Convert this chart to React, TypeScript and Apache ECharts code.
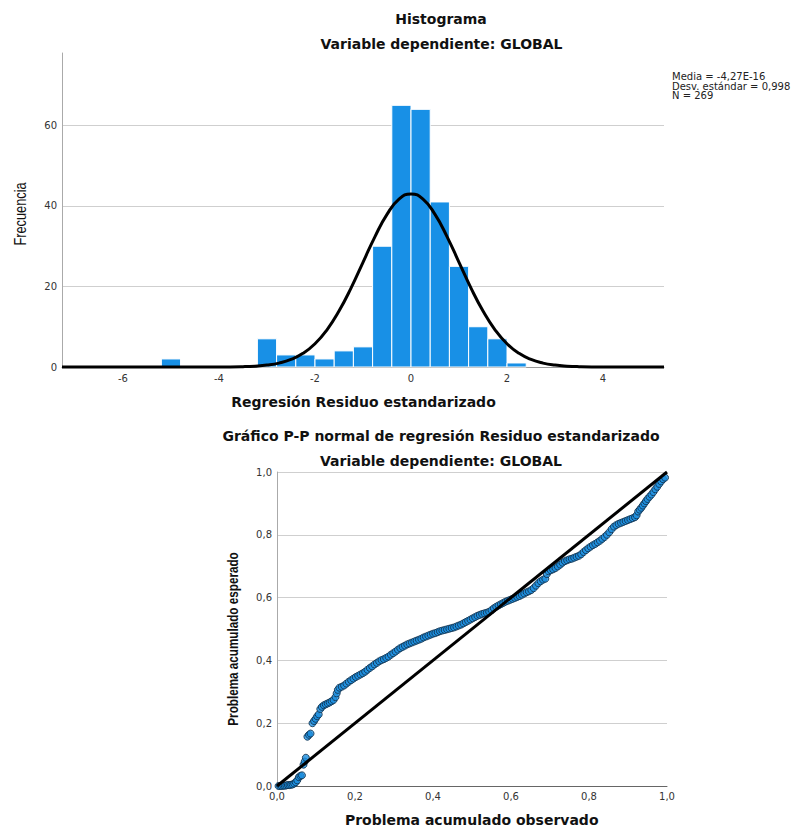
import React, { useEffect, useRef } from "react";
import * as echarts from "echarts";

// ---- Histogram data (standardized residuals, bin width 0.4) ----
const BIN_WIDTH = 0.4;
const binStart = [-5.2, -3.2, -2.8, -2.4, -2.0, -1.6, -1.2, -0.8, -0.4, 0.0, 0.4, 0.8, 1.2, 1.6, 2.0];
const binCount = [2, 7, 3, 3, 2, 4, 5, 30, 65, 64, 41, 25, 10, 7, 1];

// Normal curve
const curveX = [-7.27, -5, -4.5, -4, -3.5, -3.25, -3, -2.75, -2.5, -2.25, -2, -1.75, -1.5, -1.25, -1, -0.75, -0.5, -0.25, 0,
  0.25, 0.5, 0.75, 1, 1.25, 1.5, 1.75, 2, 2.25, 2.5, 2.75, 3, 3.25, 3.5, 4, 4.5, 5.27];
const curveY = [0, 0, 0, 0.01, 0.09, 0.21, 0.47, 0.97, 1.87, 3.39, 5.77, 9.25, 13.9, 19.6, 26.0, 32.4, 37.9, 41.7, 43.0,
  41.7, 37.9, 32.4, 26.0, 19.6, 13.9, 9.25, 5.77, 3.39, 1.87, 0.97, 0.47, 0.21, 0.09, 0.01, 0, 0];

const histXLabels = [-6, -4, -2, 0, 2, 4];

const statsLines = ["Media = -4,27E-16", "Desv. estándar = 0,998", "N = 269"];

// ---- P-P plot data (observed cum. prob, expected cum. prob) ----
const ppObserved = [
  0.004, 0.008, 0.012, 0.016, 0.020, 0.024, 0.028, 0.032, 0.036, 0.040, 0.044, 0.048, 0.052, 0.056, 0.060, 0.064,
  0.068, 0.071, 0.074, 0.078, 0.082, 0.086, 0.091, 0.095, 0.099, 0.103, 0.107, 0.111, 0.115, 0.120, 0.125, 0.130,
  0.135, 0.140, 0.145, 0.150, 0.153, 0.156, 0.160, 0.166, 0.172, 0.178, 0.184, 0.190, 0.196, 0.202, 0.208, 0.214,
  0.220, 0.226, 0.232, 0.238, 0.244, 0.250, 0.256, 0.262, 0.268, 0.274, 0.280, 0.286, 0.292, 0.298, 0.304, 0.310,
  0.316, 0.322, 0.328, 0.334, 0.340, 0.346, 0.352, 0.358, 0.364, 0.370, 0.376, 0.382, 0.388, 0.394, 0.400, 0.406,
  0.412, 0.418, 0.424, 0.430, 0.436, 0.442, 0.448, 0.454, 0.460, 0.466, 0.472, 0.478, 0.484, 0.490, 0.496, 0.502,
  0.508, 0.514, 0.520, 0.526, 0.532, 0.538, 0.544, 0.550, 0.556, 0.562, 0.568, 0.574, 0.580, 0.586, 0.592, 0.598,
  0.604, 0.610, 0.616, 0.622, 0.628, 0.634, 0.640, 0.646, 0.652, 0.658, 0.664, 0.670, 0.676, 0.682, 0.688, 0.692,
  0.696, 0.702, 0.708, 0.714, 0.720, 0.726, 0.732, 0.738, 0.744, 0.750, 0.756, 0.762, 0.768, 0.774, 0.780, 0.786,
  0.792, 0.798, 0.804, 0.810, 0.816, 0.822, 0.828, 0.834, 0.840, 0.846, 0.852, 0.858, 0.864, 0.870, 0.876, 0.882,
  0.888, 0.894, 0.900, 0.906, 0.912, 0.918, 0.922, 0.926, 0.930, 0.934, 0.938, 0.942, 0.946, 0.950, 0.955, 0.960,
  0.965, 0.970, 0.975, 0.980, 0.985, 0.990, 0.995,
];
const ppExpected = [
  0.000, 0.000, 0.000, 0.001, 0.001, 0.002, 0.003, 0.003, 0.004, 0.005, 0.008, 0.012, 0.018, 0.028, 0.032, 0.034,
  0.068, 0.078, 0.090, 0.157, 0.163, 0.167, 0.200, 0.207, 0.214, 0.222, 0.228, 0.245, 0.252, 0.257, 0.260, 0.263,
  0.266, 0.270, 0.274, 0.283, 0.295, 0.306, 0.313, 0.316, 0.320, 0.326, 0.332, 0.337, 0.342, 0.347, 0.351, 0.355,
  0.359, 0.364, 0.370, 0.376, 0.381, 0.387, 0.392, 0.397, 0.401, 0.404, 0.408, 0.412, 0.418, 0.423, 0.428, 0.434,
  0.439, 0.443, 0.447, 0.451, 0.454, 0.457, 0.460, 0.463, 0.466, 0.469, 0.473, 0.476, 0.479, 0.482, 0.485, 0.487,
  0.490, 0.493, 0.495, 0.497, 0.499, 0.501, 0.503, 0.505, 0.508, 0.511, 0.514, 0.518, 0.522, 0.526, 0.530, 0.534,
  0.538, 0.542, 0.545, 0.548, 0.550, 0.552, 0.555, 0.560, 0.566, 0.571, 0.575, 0.579, 0.583, 0.587, 0.590, 0.593,
  0.596, 0.599, 0.602, 0.605, 0.609, 0.613, 0.617, 0.620, 0.624, 0.630, 0.638, 0.646, 0.652, 0.657, 0.660, 0.675,
  0.684, 0.687, 0.690, 0.694, 0.699, 0.705, 0.711, 0.716, 0.719, 0.722, 0.724, 0.727, 0.730, 0.733, 0.738, 0.745,
  0.751, 0.757, 0.762, 0.767, 0.771, 0.776, 0.781, 0.787, 0.793, 0.800, 0.808, 0.818, 0.826, 0.831, 0.835, 0.838,
  0.841, 0.844, 0.847, 0.850, 0.853, 0.856, 0.862, 0.874, 0.880, 0.886, 0.893, 0.900, 0.907, 0.914, 0.921, 0.928,
  0.936, 0.945, 0.953, 0.962, 0.970, 0.977, 0.982,
];
const diagonal = [[0, 0], [1, 1]];

const TICK_FONT = "DejaVu Sans";
const commaFmt = (v: number) => v.toFixed(1).replace(".", ",");

export default function App() {
  const ref = useRef<HTMLDivElement>(null);

  useEffect(() => {
    if (!ref.current) return;
    const chart = echarts.init(ref.current, null, { renderer: "svg" });

    const histData = binStart.map((s, i) => [s, s + BIN_WIDTH, binCount[i]]);
    const curveData = curveX.map((x, i) => [x, curveY[i]]);
    const ppData = ppObserved.map((x, i) => [x, ppExpected[i]]);

    const titleFont = "bold 14px 'DejaVu Sans'";
    const txt = (text: string, x: number, y: number, font: string, extra: any = {}) => ({
      type: "text",
      x,
      y,
      silent: true,
      ...extra,
      style: { text, font, fill: "#111", textAlign: "center", textVerticalAlign: "middle" },
    });

    const option: any = {
      animation: false,
      backgroundColor: "#fff",
      grid: [
        { left: 62, top: 53, width: 602, height: 314 },
        { left: 277, top: 472, width: 390, height: 314 },
      ],
      xAxis: [
        {
          gridIndex: 0,
          type: "value",
          min: -7.27,
          max: 5.27,
          axisLine: { show: true, onZero: false, lineStyle: { color: "#999", width: 1 } },
          axisTick: { show: false },
          splitLine: { show: false },
          axisLabel: {
            customValues: histXLabels,
            margin: 6,
            fontFamily: TICK_FONT,
            fontSize: 10,
            color: "#333",
            formatter: (v: number) => String(v),
          },
        },
        {
          gridIndex: 1,
          type: "value",
          min: 0,
          max: 1,
          interval: 0.2,
          axisLine: { show: true, onZero: false, lineStyle: { color: "#666", width: 1 } },
          axisTick: { show: false },
          splitLine: { show: false },
          axisLabel: { margin: 5, fontFamily: TICK_FONT, fontSize: 10, color: "#333", formatter: commaFmt },
        },
      ],
      yAxis: [
        {
          gridIndex: 0,
          type: "value",
          min: 0,
          max: 78,
          interval: 20,
          axisLine: { show: true, onZero: false, lineStyle: { color: "#aaa", width: 1 } },
          axisTick: { show: false },
          splitLine: { show: true, showMaxLine: false, lineStyle: { color: "#cfcfcf", width: 1 } },
          axisLabel: {
            showMaxLabel: false,
            margin: 5,
            fontFamily: TICK_FONT,
            fontSize: 10,
            color: "#333",
          },
        },
        {
          gridIndex: 1,
          type: "value",
          min: 0,
          max: 1,
          interval: 0.2,
          axisLine: { show: true, onZero: false, lineStyle: { color: "#aaa", width: 1 } },
          axisTick: { show: false },
          splitLine: { show: true, lineStyle: { color: "#cfcfcf", width: 1 } },
          axisLabel: { margin: 5, fontFamily: TICK_FONT, fontSize: 10, color: "#333", formatter: commaFmt },
        },
      ],
      series: [
        {
          type: "custom",
          xAxisIndex: 0,
          yAxisIndex: 0,
          data: histData,
          encode: { x: [0, 1], y: 2 },
          renderItem: (params: any, api: any) => {
            const p0 = api.coord([api.value(0), api.value(2)]);
            const p1 = api.coord([api.value(1), 0]);
            return {
              type: "rect",
              shape: { x: p0[0], y: p0[1], width: p1[0] - p0[0], height: p1[1] - p0[1] },
              style: { fill: "#1890e6", stroke: "#ffffff", lineWidth: 1 },
            };
          },
          z: 2,
        },
        {
          type: "line",
          xAxisIndex: 0,
          yAxisIndex: 0,
          data: curveData,
          showSymbol: false,
          smooth: true,
          clip: false,
          lineStyle: { color: "#000", width: 3 },
          z: 5,
        },
        {
          type: "scatter",
          xAxisIndex: 1,
          yAxisIndex: 1,
          data: ppData,
          symbol: "circle",
          symbolSize: 7,
          itemStyle: { color: "#1c8fe0", borderColor: "#0d2a45", borderWidth: 1 },
          z: 3,
        },
        {
          type: "line",
          xAxisIndex: 1,
          yAxisIndex: 1,
          data: diagonal,
          showSymbol: false,
          clip: false,
          lineStyle: { color: "#000", width: 3 },
          z: 4,
        },
      ],
      graphic: [
        txt("Histograma", 441, 18.5, titleFont),
        txt("Variable dependiente: GLOBAL", 441.5, 43.5, titleFont),
        txt("Regresión Residuo estandarizado", 363.5, 402, titleFont),
        txt("Frecuencia", 20, 214, "16px 'Liberation Sans'", { rotation: Math.PI / 2, scaleX: 0.8 }),
        {
          type: "text",
          x: 672,
          y: 72,
          silent: true,
          style: {
            text: statsLines.join("\n"),
            font: "10px 'DejaVu Sans'",
            lineHeight: 9.4,
            fill: "#222",
            textAlign: "left",
            textVerticalAlign: "top",
          },
        },
        txt("Gráfico P-P normal de regresión Residuo estandarizado", 441, 436, titleFont),
        txt("Variable dependiente: GLOBAL", 441, 461, titleFont),
        txt("Problema acumulado observado", 471.7, 820, titleFont),
        txt("Problema acumulado esperado", 233, 639, "bold 15px 'Liberation Sans'", {
          rotation: Math.PI / 2,
          scaleX: 0.78,
        }),
      ],
    };

    chart.setOption(option);
    return () => chart.dispose();
  }, []);

  return (
    <div
      ref={ref}
      style={{ position: "absolute", left: 0, top: 0, width: 793, height: 832, background: "#fff" }}
    />
  );
}
